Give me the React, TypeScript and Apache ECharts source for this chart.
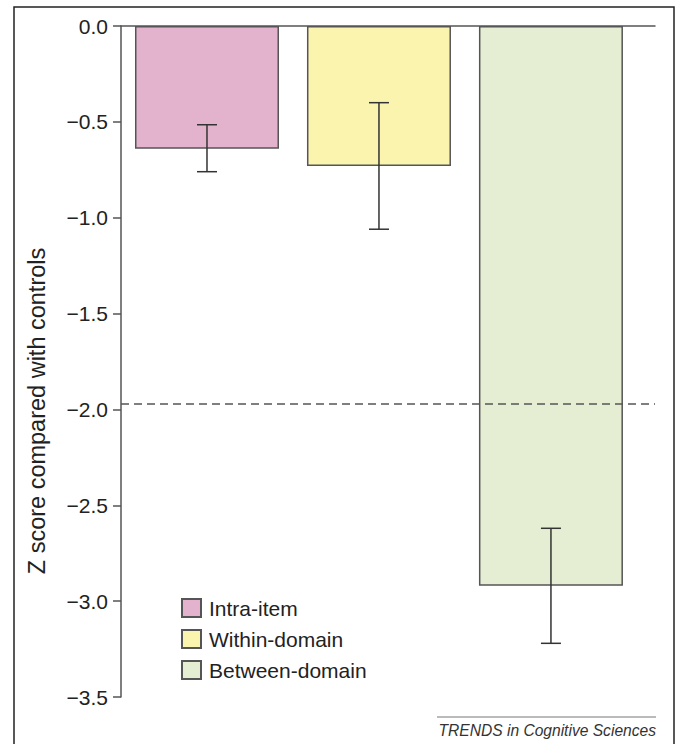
import React, { useEffect, useRef } from "react";
import * as echarts from "echarts";

const categories = ["Intra-item", "Within-domain", "Between-domain"];
const xPositions = [0.5, 1.5, 2.5];
const means = [-0.64, -0.73, -2.92];
const errLow = [-0.76, -1.06, -3.22];
const errHigh = [-0.515, -0.4, -2.62];
const barColors = ["#e3b3cd", "#fbf4ae", "#e5eed3"];
const threshold = -1.97;
const yMin = -3.5;
const yMax = 0;
const yInterval = 0.5;
const yAxisTitle = "Z score compared with controls";
const footer = "TRENDS in Cognitive Sciences";

const fmt = (v: number) => {
  const s = Math.abs(v).toFixed(1);
  return v < 0 ? "\u2212" + s : s;
};

export default function App() {
  const ref = useRef<HTMLDivElement>(null);
  useEffect(() => {
    if (!ref.current) return;
    const chart = echarts.init(ref.current, undefined, { renderer: "svg" });
    const font = "Liberation Sans, Arial, Helvetica, sans-serif";
    const barSeries = categories.map((name, i) => ({
      type: "bar",
      name,
      data: [[xPositions[i], means[i]]],
      barWidth: 144,
      barGap: "-100%",
      itemStyle: { color: barColors[i], borderColor: "#555", borderWidth: 1.5 },
      z: 2,
    }));
    const option: any = {
      animation: false,
      backgroundColor: "#fff",
      grid: { left: 121, top: 26, width: 534, height: 671 },
      xAxis: {
        type: "value",
        min: 0,
        max: 3.105,
        position: "top",
        axisLine: { show: true, onZero: false, lineStyle: { color: "#555", width: 1.5 } },
        axisTick: { show: false },
        axisLabel: { show: false },
        splitLine: { show: false },
      },
      yAxis: {
        type: "value",
        min: yMin,
        max: yMax,
        interval: yInterval,
        axisLine: { show: true, onZero: false, lineStyle: { color: "#555", width: 1.5 } },
        axisTick: { show: true, length: 8, lineStyle: { color: "#555", width: 1.5 } },
        axisLabel: {
          margin: 13,
          color: "#222",
          fontSize: 21,
          fontFamily: font,
          formatter: (v: number) => fmt(v),
        },
        splitLine: { show: false },
      },
      legend: {
        data: categories,
        orient: "vertical",
        left: 181,
        top: 597.5,
        padding: 0,
        itemWidth: 19,
        itemHeight: 18,
        itemGap: 10,
        icon: "rect",
        textStyle: {
          fontSize: 21,
          color: "#222",
          fontFamily: font,
          padding: [0, 0, 0, 3],
        },
      },
      series: [
        ...barSeries,
        {
          type: "custom",
          name: "error",
          data: xPositions.map((x, i) => [x, errLow[i], errHigh[i]]),
          encode: { x: 0, y: [1, 2] },
          z: 5,
          renderItem: (params: any, api: any) => {
            const x = api.value(0);
            const pLo = api.coord([x, api.value(1)]);
            const pHi = api.coord([x, api.value(2)]);
            const hw = 10;
            const st = { stroke: "#333", lineWidth: 1.5 };
            return {
              type: "group",
              children: [
                { type: "line", shape: { x1: pLo[0], y1: pLo[1], x2: pHi[0], y2: pHi[1] }, style: st },
                { type: "line", shape: { x1: pLo[0] - hw, y1: pLo[1], x2: pLo[0] + hw, y2: pLo[1] }, style: st },
                { type: "line", shape: { x1: pHi[0] - hw, y1: pHi[1], x2: pHi[0] + hw, y2: pHi[1] }, style: st },
              ],
            };
          },
          markLine: {
            silent: true,
            symbol: "none",
            label: { show: false },
            lineStyle: { type: [8, 5], color: "#555", width: 1.5 },
            data: [{ yAxis: threshold }],
          },
        },
      ],
      graphic: [
        {
          type: "rect",
          shape: { x: 14, y: 7, width: 660, height: 760 },
          style: { fill: "none", stroke: "#222", lineWidth: 1.5 },
          z: -1,
        },
        {
          type: "text",
          x: 37,
          y: 411,
          rotation: Math.PI / 2,
          style: {
            text: yAxisTitle,
            align: "center",
            verticalAlign: "middle",
            fontSize: 23.5,
            fontFamily: font,
            fill: "#222",
          },
        },
        {
          type: "line",
          shape: { x1: 437, y1: 717, x2: 656, y2: 717 },
          style: { stroke: "#777", lineWidth: 1 },
        },
        {
          type: "text",
          x: 656,
          y: 730,
          style: {
            text: footer,
            align: "right",
            verticalAlign: "middle",
            fontSize: 15.6,
            fontStyle: "italic",
            fontFamily: font,
            fill: "#333",
          },
        },
      ],
    };
    chart.setOption(option);
    return () => chart.dispose();
  }, []);
  return (
    <div
      ref={ref}
      style={{ position: "fixed", left: 0, top: 0, width: 677, height: 744, background: "#fff" }}
    />
  );
}
